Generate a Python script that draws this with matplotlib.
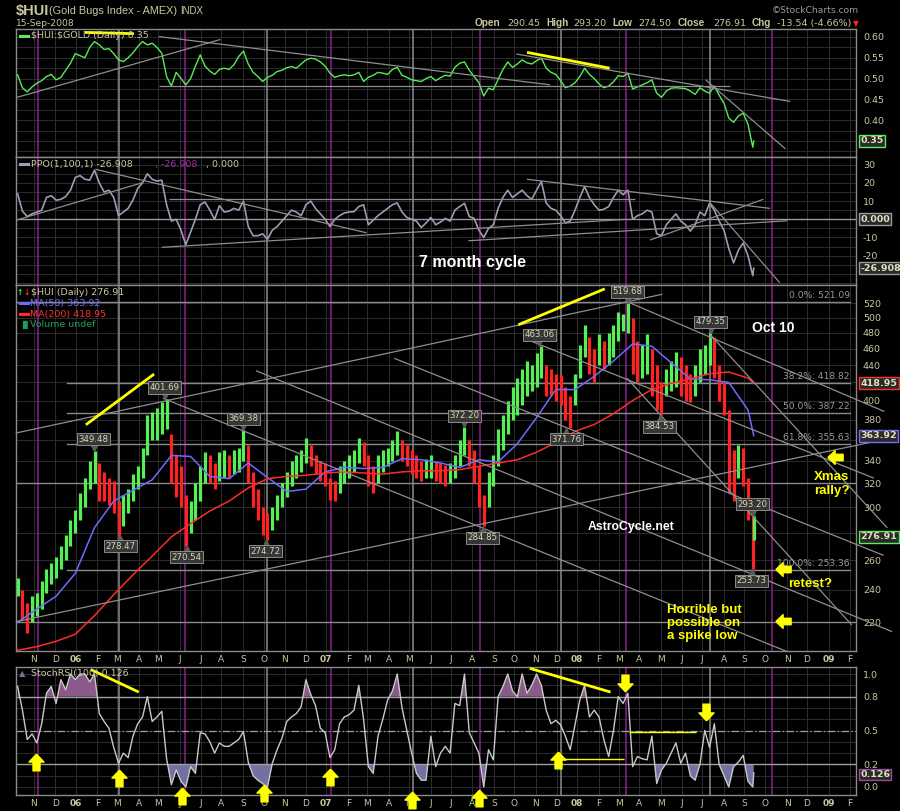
import numpy as np
import pandas as pd
import matplotlib
matplotlib.use("Agg")
import matplotlib.pyplot as plt
from matplotlib.path import Path
from matplotlib.lines import Line2D
from matplotlib.transforms import blended_transform_factory, offset_copy

# ---------------- data ----------------
week_dates = list(pd.date_range("2005-10-07", "2008-09-12", freq="W-FRI").strftime("%Y-%m-%d")) + ["2008-09-15"]

hui_high = [248, 240, 232, 236, 238, 246, 254, 258, 262, 270,
            278, 290, 298, 312, 325, 340, 349.5, 338, 330, 325,
            322, 305, 310, 315, 328, 335, 352, 385, 388, 392,
            398, 401.7, 365, 345, 335, 310, 305, 320, 335, 348,
            345, 338, 348, 350, 345, 350, 352, 369.4, 355, 330,
            315, 300, 295, 300, 310, 320, 330, 340, 345, 350,
            362, 355, 345, 340, 338, 325, 322, 335, 340, 345,
            350, 362, 358, 345, 335, 345, 350, 352, 360, 368,
            360, 355, 350, 345, 340, 342, 345, 340, 338, 336,
            338, 345, 360, 372.2, 360, 350, 335, 310, 330, 345,
            370, 385, 400, 415, 425, 435, 445, 440, 455, 463.1,
            440, 436, 430, 428, 415, 405, 430, 465, 490, 475,
            460, 478, 470, 480, 490, 508, 505, 519.7, 500, 470,
            465, 478, 460, 440, 420, 435, 445, 456, 450, 440,
            430, 440, 460, 465, 479.4, 475, 440, 420, 390, 350,
            355, 352, 325, 300, 293.2]
hui_low = [236, 222, 214, 220, 224, 228, 238, 244, 248, 254,
           260, 270, 280, 290, 300, 315, 320, 305, 305, 302,
           295, 278.5, 285, 295, 305, 315, 325, 345, 360, 360,
           365, 370, 320, 308, 300, 270.5, 280, 290, 305, 320,
           320, 315, 322, 325, 325, 328, 330, 340, 320, 300,
           290, 278, 274.7, 282, 290, 300, 308, 318, 325, 330,
           338, 335, 328, 322, 318, 306, 305, 312, 320, 325,
           330, 338, 335, 318, 312, 320, 330, 335, 340, 345,
           340, 335, 328, 325, 322, 325, 325, 322, 320, 318,
           320, 325, 335, 345, 335, 320, 300, 284.9, 300, 318,
           335, 350, 365, 380, 385, 395, 405, 410, 415, 425,
           405, 406, 400, 395, 380, 371.8, 395, 425, 450, 430,
           420, 440, 435, 440, 450, 470, 482, 480, 430, 420,
           425, 430, 405, 390, 384.5, 405, 410, 415, 405, 400,
           398, 405, 420, 430, 440, 425, 400, 385, 312, 305,
           325, 318, 290, 253.7, 274.5]
ratio = [0.509, 0.478, 0.468, 0.480, 0.489, 0.495, 0.505, 0.510, 0.497, 0.503,
         0.520, 0.537, 0.560, 0.555, 0.550, 0.575, 0.589, 0.581, 0.570, 0.572,
         0.560, 0.545, 0.541, 0.550, 0.562, 0.577, 0.589, 0.581, 0.585, 0.575,
         0.561, 0.505, 0.482, 0.515, 0.500, 0.485, 0.500, 0.530, 0.557, 0.530,
         0.518, 0.510, 0.522, 0.525, 0.522, 0.533, 0.553, 0.566, 0.535, 0.515,
         0.505, 0.493, 0.503, 0.508, 0.517, 0.520, 0.526, 0.529, 0.525, 0.535,
         0.545, 0.549, 0.547, 0.540, 0.530, 0.513, 0.503, 0.507, 0.509, 0.507,
         0.509, 0.515, 0.493, 0.503, 0.508, 0.515, 0.513, 0.510, 0.522, 0.527,
         0.508, 0.503, 0.497, 0.495, 0.493, 0.500, 0.505, 0.495, 0.502, 0.508,
         0.506, 0.527, 0.537, 0.540, 0.520, 0.505, 0.490, 0.458, 0.477, 0.473,
         0.498, 0.522, 0.540, 0.527, 0.535, 0.545, 0.538, 0.535, 0.543, 0.549,
         0.525, 0.515, 0.510, 0.495, 0.478, 0.482, 0.490, 0.505, 0.525, 0.510,
         0.500, 0.487, 0.478, 0.482, 0.492, 0.507, 0.505, 0.513, 0.475, 0.480,
         0.485, 0.490, 0.497, 0.465, 0.455, 0.470, 0.477, 0.478, 0.477, 0.476,
         0.470, 0.462, 0.478, 0.470, 0.465, 0.482, 0.460, 0.441, 0.405, 0.395,
         0.410, 0.417, 0.390, 0.335, 0.350]
ppo = [14, 4.5, 1.5, 3, 4, 5, 12, 13, 10.5, 11,
       12.5, 16, 23, 24, 22, 21.5, 27, 20, 15, 16,
       12, 2, 4, 6, 10.6, 17, 20, 25, 22, 21,
       21.5, 8, -1, 0, -6, -14, -7, 0, 8, 9.5,
       5, 0, 7.5, 4, 4.5, 6, 5, 10, -4, -9,
       -9, -8, -11, -6, -4, -1, 2, 5, 4, 2,
       8, 10, 6, 3, 0, -4, 0, 2, 3.5, 4,
       4.2, 7, 8, -3, -0.5, 2, 4, 6, 8, 9,
       4, 1, 0, -1, -4.5, -2, 1, -3, -1.5, 0.5,
       -1, 5, 7, 8.8, 1.5, 0.5, -6, -10, -5, -3,
       6, 12, 16, 12, 14, 16, 13, 11, 16, 20.7,
       9, 6, 5, 2, -2, -1, 5, 12, 18, 12,
       8, 5, 5.5, 7, 12, 16, 13.5, 16, 0, 2,
       3, 5, 4, -8, -9, -3, 0, 3, -1, -3,
       -6.5, -3, 4, 2, 8.8, 5, -1, -6, -16, -24,
       -17, -13, -20, -31, -26.908]
stoch = [0.89, 0.68, 0.42, 0.47, 0.39, 0.56, 0.83, 0.89, 0.74, 0.95,
         0.86, 1.0, 0.95, 1.0, 1.0, 0.93, 1.0, 0.65, 0.58, 0.52,
         0.35, 0.21, 0.30, 0.26, 0.45, 0.56, 0.62, 0.80, 0.58, 0.62,
         0.67, 0.25, 0.02, 0.15, 0.05, 0.0, 0.18, 0.12, 0.48, 0.47,
         0.40, 0.30, 0.39, 0.36, 0.36, 0.39, 0.42, 0.49, 0.22, 0.10,
         0.06, 0.03, 0.0, 0.21, 0.33, 0.43, 0.58, 0.62, 0.65, 0.71,
         0.95, 0.82, 0.72, 0.52, 0.48, 0.26, 0.33, 0.56, 0.62, 0.64,
         0.68, 0.90, 0.60, 0.18, 0.12, 0.45, 0.60, 0.77, 0.85, 1.0,
         0.70, 0.50, 0.30, 0.12, 0.06, 0.06, 0.45, 0.18, 0.30, 0.36,
         0.30, 0.74, 0.72, 1.0, 0.48, 0.39, 0.30, 0.0, 0.33, 0.24,
         0.80, 0.89, 1.0, 0.85, 0.80, 1.0, 0.83, 0.90, 1.0, 0.90,
         0.68, 0.56, 0.59, 0.55, 0.45, 0.33, 0.55, 0.77, 0.90, 0.62,
         0.68, 0.62, 0.42, 0.27, 0.50, 0.80, 0.74, 0.83, 0.18, 0.27,
         0.25, 0.24, 0.45, 0.03, 0.15, 0.21, 0.30, 0.39, 0.21, 0.30,
         0.10, 0.06, 0.20, 0.50, 0.35, 0.56, 0.20, 0.10, 0.0, 0.18,
         0.22, 0.28, 0.05, 0.0, 0.126]

ma_dates = list(pd.date_range("2005-10-07", "2008-09-05", freq="28D").strftime("%Y-%m-%d")) + ["2008-09-15"]
ma50 = [220, 228, 236, 251, 284, 305, 314, 323, 345, 344,
        326, 324, 338, 325, 313, 315, 330, 334, 333, 334,
        342, 341, 338, 334, 341, 339, 356, 382, 412, 412,
        427, 445, 466, 463, 443, 424, 423, 420, 390, 363.92]
ma200 = [204, 206, 209, 213, 224, 237, 250, 263, 277, 287,
         297, 305, 316, 324, 326, 327, 329, 330, 329, 328,
         330, 331, 331, 332, 335, 338, 341, 348, 357, 368,
         375, 386, 400, 412, 419, 424, 430, 432, 425, 418.95]

pivot_dates = ["2006-01-26", "2006-03-07", "2006-05-10", "2006-06-12", "2006-09-01",
               "2006-10-04", "2007-07-20", "2007-08-16", "2007-11-07", "2007-12-17",
               "2008-03-14", "2008-04-30", "2008-07-14", "2008-09-12", "2008-09-11"]
pivot_values = [349.48, 278.47, 401.69, 270.54, 369.38, 274.72, 372.20, 284.85,
                463.06, 371.76, 519.68, 384.53, 479.35, 293.20, 253.73]
pivot_is_high = [1, 0, 1, 0, 1, 0, 1, 0, 1, 0, 1, 0, 1, 1, 0]

cycle_purple = ["2005-11-07", "2006-06-08", "2007-01-08", "2007-08-13", "2008-03-12", "2008-10-10"]
cycle_gray = ["2006-03-06", "2006-10-06", "2007-05-07", "2007-12-07", "2008-07-11"]

ratio_lines = [("2005-10-05", 0.454, "2006-07-29", 0.594),
               ("2006-05-02", 0.601, "2007-11-22", 0.485),
               ("2006-05-02", 0.483, "2008-08-09", 0.483),
               ("2007-10-04", 0.559, "2008-11-06", 0.445),
               ("2008-07-05", 0.497, "2008-10-30", 0.331)]
ratio_yellow = [("2007-10-19", 0.563, "2008-02-17", 0.525),
                ("2006-01-13", 0.611, "2006-03-27", 0.608)]
ppo_lines = [("2005-10-06", -0.4, "2006-04-08", 20.3),
             ("2006-01-30", 27.5, "2007-02-28", -7.4),
             ("2006-05-17", 11.0, "2008-03-25", 11.0),
             ("2006-05-05", -15.4, "2008-03-13", 0.0),
             ("2007-07-26", -11.8, "2008-11-01", -0.8),
             ("2007-10-19", 22.0, "2008-10-08", 6.0),
             ("2008-04-16", -11.4, "2008-09-28", 11.0),
             ("2008-07-12", 8.8, "2008-10-22", -34.8)]
main_lines = [("2005-10-05", 366.4, "2008-05-03", 532.8),
              ("2005-10-05", 220.3, "2009-03-07", 358.0),
              ("2007-04-10", 448.2, "2009-03-22", 263.5),
              ("2006-09-20", 433.5, "2009-04-03", 214.5),
              ("2006-05-08", 402.6, "2008-11-01", 203.2),
              ("2007-10-16", 473.1, "2009-03-07", 324.5),
              ("2008-03-13", 522.3, "2009-03-24", 388.3),
              ("2008-03-13", 424.9, "2009-02-04", 218.4),
              ("2008-07-12", 477.4, "2009-03-27", 283.7)]
main_yellow = [("2006-01-14", 374.7, "2006-04-25", 429.6),
               ("2007-10-07", 490.7, "2008-02-09", 540.6)]
fib_levels = [521.09, 418.82, 387.22, 355.63, 253.36]
fib_names = ["0.0%", "38.2%", "50.0%", "61.8%", "100.0%"]
extra_levels = [320, 220]
main_arrows = [("2009-01-11", 343.8), ("2008-10-27", 254.1), ("2008-10-27", 220.7)]
stoch_up = [("2005-11-03", 0.224), ("2006-03-03", 0.077), ("2006-06-05", -0.08),
            ("2006-10-02", -0.056), ("2007-01-05", 0.091), ("2007-05-04", -0.115),
            ("2007-08-10", -0.10), ("2007-12-04", 0.239)]
stoch_down = [("2008-03-11", 0.918), ("2008-07-07", 0.666)]
stoch_yellow = [("2006-01-23", 1.04, "2006-04-03", 0.84),
                ("2007-10-24", 1.05, "2008-02-19", 0.84)]
stoch_yellow_thin = [("2008-03-17", 0.484, "2008-06-23", 0.484),
                     ("2007-12-11", 0.245, "2008-03-10", 0.245)]

# ---------------- helpers ----------------
BASE = np.datetime64("2005-11-01")


def X(d):
    return np.busday_count(BASE, np.array(d, dtype="datetime64[D]")).astype(float)


TXT = "#c8c8a0"
GRID = "#2c2c2c"
FRAME = "#8a8a8a"
TREND = "#8e8e8e"
PURPLE = "#8c1f8c"
ANN = "Liberation Sans"

fig = plt.figure(figsize=(9, 8.11), dpi=100, facecolor="black")


def rect(top, bottom):
    return [16 / 900, 1 - bottom / 811, 840 / 900, (bottom - top) / 811]


ax1 = fig.add_axes(rect(29, 157))
ax2 = fig.add_axes(rect(157, 285))
ax3 = fig.add_axes(rect(285, 651))
ax4 = fig.add_axes(rect(667, 795))
axes = [ax1, ax2, ax3, ax4]

xw = X(week_dates)
xm = X(ma_dates)
months = pd.date_range("2005-11-01", "2009-02-01", freq="MS")
mx = X(months.strftime("%Y-%m-%d"))
mlabels = [m.strftime("%y") if m.month == 1 else "JFMAMJJASOND"[m.month - 1] for m in months]

for ax in axes:
    ax.set_facecolor("black")
    ax.set_xlim(-18.7, 855.4)
    for s in ax.spines.values():
        s.set_color(FRAME)
        s.set_linewidth(1.0)
    ax.yaxis.tick_right()
    ax.tick_params(axis="y", length=0, pad=5, labelsize=6.8, labelcolor=TXT)
    ax.set_xticks(mx)
    ax.set_xticklabels(mlabels)
    ax.tick_params(axis="x", length=0, pad=3, labelsize=6.5, labelcolor=TXT)
    for lab in ax.get_xticklabels():
        if lab.get_text().isdigit():
            lab.set_fontweight("bold")
    ax.grid(True, axis="x", color=GRID, lw=0.7)
    ax.set_axisbelow(True)
    for d in cycle_purple:
        ax.axvline(X(d), color=PURPLE, lw=1.1, zorder=1.5)
    for d in cycle_gray:
        ax.axvline(X(d), color="#8c8c8c", lw=1.1, zorder=1.5)
ax1.tick_params(axis="x", labelbottom=False)
ax2.tick_params(axis="x", labelbottom=False)


def seg(ax, lines, color, lw, clip=True, z=4):
    for d0, v0, d1, v1 in lines:
        ax.plot([X(d0), X(d1)], [v0, v1], color=color, lw=lw, zorder=z,
                solid_capstyle="butt", clip_on=clip)


def tag(ax, y, s, ec):
    ax.text(1.005, y, s, transform=blended_transform_factory(ax.transAxes, ax.transData),
            ha="left", va="center", fontsize=6.8, fontweight="bold", color="#e0e0c0",
            bbox=dict(boxstyle="square,pad=0.16", fc="#2a2a2a", ec=ec, lw=1.0),
            clip_on=False, zorder=10)


# ---------------- panel 1: ratio ----------------
ax1.set_ylim(0.3115, 0.6192)
ax1.set_yticks([0.40, 0.45, 0.50, 0.55, 0.60])
ax1.set_yticklabels(["0.40", "0.45", "0.50", "0.55", "0.60"])
for v in np.arange(0.325, 0.62, 0.025):
    ax1.axhline(v, color=GRID, lw=0.7, zorder=0.5)
ax1.plot(xw, ratio, color="#55ee55", lw=1.0, zorder=3)
seg(ax1, ratio_lines, TREND, 0.9)
seg(ax1, ratio_yellow, "#ffff00", 2.0)
tag(ax1, ratio[-1], "0.35", "#55ee55")

# ---------------- panel 2: PPO ----------------
ax2.set_ylim(-36.1, 34.23)
ax2.set_yticks([-20, -10, 10, 20, 30])
ax2.set_yticklabels(["-20", "-10", "10", "20", "30"])
for v in range(-35, 35, 5):
    ax2.axhline(v, color=GRID, lw=0.7, zorder=0.5)
ax2.axhline(0, color="#9a9a9a", lw=1.0, zorder=2)
ax2.plot(xw, ppo, color="#9c9cb4", lw=1.2, zorder=3)
seg(ax2, ppo_lines, TREND, 0.9)
tag(ax2, 0.0, "0.000", "#9a9a9a")
tag(ax2, ppo[-1], "-26.908", "#9a9a9a")
ax2.text(X("2007-08-01"), -24, "7 month cycle", color="white", fontsize=11.5,
         fontweight="bold", family=ANN, ha="center", va="center", zorder=8)

# ---------------- panel 3: price ----------------
ax3.set_yscale("log")
ax3.set_ylim(203.6, 546.2)
ticks = list(range(220, 521, 20))
shown = [t for t in ticks if t not in (280, 360, 420)]
ax3.set_yticks(shown)
ax3.set_yticklabels([str(t) for t in shown])
ax3.yaxis.set_minor_locator(matplotlib.ticker.NullLocator())
for t in ticks:
    ax3.axhline(t, color=GRID, lw=0.7, zorder=0.5)

hi = np.array(hui_high)
lo = np.array(hui_low)
mid = (hi + lo) / 2
up = np.concatenate([[True], mid[1:] >= mid[:-1]])
cols = np.where(up, "#55f055", "#ff2222")
ax3.vlines(xw, lo, hi, colors=cols, lw=2.3, zorder=3)
ax3.plot(xm, ma50, color="#6c6cff", lw=1.1, zorder=4)
ax3.plot(xm, ma200, color="#ff2a2a", lw=1.1, zorder=4)

for lvl, nm in zip(fib_levels, fib_names):
    start = "2005-10-05" if nm == "0.0%" else "2005-12-18"
    ax3.plot([X(start), X("2009-02-02")], [lvl, lvl], color="#8a8a8a", lw=1.0, zorder=2)
    ax3.annotate(f"{nm}: {lvl:.2f}", (X("2009-02-02"), lvl), xytext=(0, 2),
                 textcoords="offset pixels", ha="right", va="bottom",
                 fontsize=6.6, color="#9a9a9a", zorder=6)
for lvl in extra_levels:
    ax3.axhline(lvl, color="#8a8a8a", lw=1.0, zorder=2)

seg(ax3, main_lines, TREND, 0.9, clip=False)
seg(ax3, main_yellow, "#ffff00", 2.0)

for d, v, h in zip(pivot_dates, pivot_values, pivot_is_high):
    xx = X(d)
    off = 4 if h else -4
    tr = offset_copy(ax3.transData, fig=fig, x=0, y=off, units="dots")
    ax3.plot([xx], [v], marker="v" if h else "^", ms=5.5, color="#5a5a5a",
             transform=tr, zorder=7, clip_on=False)
    ax3.annotate(f"{v:.2f}", (xx, v), xytext=(0, 7 if h else -7),
                 textcoords="offset pixels", ha="center", va="bottom" if h else "top",
                 fontsize=6.2, color="#d8d8b8", zorder=8,
                 bbox=dict(boxstyle="square,pad=0.18", fc="#363636", ec="#8a8a8a", lw=0.7))

tag(ax3, ma200[-1], "418.95", "#ff3030")
tag(ax3, ma50[-1], "363.92", "#7070ff")
tag(ax3, 276.91, "276.91", "#55ee55")

ax3.text(X("2008-10-11"), 486.5, "Oct 10", color="white", fontsize=10, fontweight="bold",
         family=ANN, ha="center", va="center", zorder=8)
ax3.text(X("2009-01-06"), 319.5, "Xmas\nrally?", color="#ffff00", fontsize=9.5,
         fontweight="bold", family=ANN, ha="center", va="center", linespacing=1.15, zorder=8)
ax3.text(X("2008-12-05"), 244.0, "retest?", color="#ffff00", fontsize=9.5, fontweight="bold",
         family=ANN, ha="center", va="center", zorder=8)
ax3.text(X("2008-05-11"), 219.5, "Horrible but\npossible on\na spike low", color="#ffff00",
         fontsize=9.5, fontweight="bold", family=ANN, ha="left", va="center",
         linespacing=1.12, zorder=8)
ax3.text(X("2008-03-19"), 284.7, "AstroCycle.net", color="white", fontsize=8.8,
         fontweight="bold", family=ANN, ha="center", va="center", zorder=8)

LEFT = [(-1, 0), (-0.05, 0.9), (-0.05, 0.42), (1, 0.42), (1, -0.42), (-0.05, -0.42),
        (-0.05, -0.9), (-1, 0)]
UPV = [(y, -x) for x, y in LEFT]
DOWNV = [(x, -y) for x, y in UPV]
for d, v in main_arrows:
    ax3.plot([X(d)], [v], marker=Path(LEFT), ms=11, color="#ffff00", mec="#ffff00",
             zorder=9, clip_on=False)

# ---------------- panel 4: StochRSI ----------------
ax4.set_ylim(-0.0708, 1.062)
ax4.set_yticks([0.0, 0.2, 0.5, 0.8, 1.0])
ax4.set_yticklabels(["0.0", "0.2", "0.5", "0.8", "1.0"])
for v in np.arange(0.0, 1.01, 0.1):
    ax4.axhline(v, color=GRID, lw=0.7, zorder=0.5)
st = np.array(stoch)
ax4.fill_between(xw, 0.8, st, where=st > 0.8, interpolate=True, color="#8a5a8a", lw=0, zorder=2)
ax4.fill_between(xw, st, 0.2, where=st < 0.2, interpolate=True, color="#7272a2", lw=0, zorder=2)
ax4.axhline(0.8, color="#a0a0a0", lw=1.0, zorder=2.5)
ax4.axhline(0.2, color="#a0a0a0", lw=1.0, zorder=2.5)
ax4.axhline(0.5, color="#a0a0a0", lw=0.9, ls=(0, (6, 2, 1, 2)), zorder=2.5)
ax4.plot(xw, st, color="#c8c8c8", lw=1.0, zorder=3)
seg(ax4, stoch_yellow, "#ffff00", 2.0)
seg(ax4, stoch_yellow_thin, "#ffff00", 1.0)
for d, v in stoch_up:
    ax4.plot([X(d)], [v], marker=Path(UPV), ms=12, color="#ffff00", mec="#ffff00",
             zorder=9, clip_on=False)
for d, v in stoch_down:
    ax4.plot([X(d)], [v], marker=Path(DOWNV), ms=12, color="#ffff00", mec="#ffff00",
             zorder=9, clip_on=False)
ax4.text(1.005, st[-1] - 0.015, "0.126", transform=blended_transform_factory(ax4.transAxes, ax4.transData),
         ha="left", va="center", fontsize=6.8, fontweight="bold", color="#e0e0c0",
         bbox=dict(boxstyle="square,pad=0.12", fc="#2a2a2a", ec="#9a4a9a", lw=1.0),
         clip_on=False, zorder=10)


# ---------------- header and legends ----------------
def ft(x, y, s, **kw):
    kw.setdefault("va", "center")
    kw.setdefault("color", TXT)
    fig.text(x / 900, 1 - y / 811, s, **kw)


def dash(x0, x1, y, color, lw=2.2):
    fig.add_artist(Line2D([x0 / 900, x1 / 900], [1 - y / 811, 1 - y / 811], color=color, lw=lw))


ft(16, 11, r"\$HUI", fontsize=10.5, fontweight="bold", family=ANN)
ft(49, 11, "(Gold Bugs Index - AMEX)", fontsize=7.8, family=ANN)
ft(180, 11, "INDX", fontsize=7, family=ANN)
ft(16, 23.5, "15-Sep-2008", fontsize=6.6)
ft(859, 10.5, "\u00a9StockCharts.com", fontsize=6.6, ha="right", color="#9a9a9a")
for xx, s, b in [(475, "Open", True), (507, "290.45", False), (546, "High", True),
                 (573, "293.20", False), (612, "Low", True), (638, "274.50", False),
                 (678, "Close", True), (713, "276.91", False), (752, "Chg", True),
                 (777, "-13.54 (-4.66%)", False)]:
    ft(xx, 23.5, s, fontsize=7.2 if b else 6.8, fontweight="bold" if b else "normal",
       family=ANN if b else "DejaVu Sans")
ft(856, 23.5, "\u25bc", fontsize=5.5, color="#ff2020", ha="center")

dash(19.5, 28, 35.7, "#55ee55")
ft(31, 35.7, r"\$HUI:\$GOLD (Daily) 0.35", fontsize=6.8)

dash(19.5, 28, 164.3, "#9c9cb4")
ft(31, 164.3, "PPO(1,100,1) -26.908", fontsize=6.8)
ft(155, 164.3, ", -26.908", fontsize=6.8, color="#a030a0")
ft(206.5, 164.3, ", 0.000", fontsize=6.8)

ft(17, 292.3, "\u2191", fontsize=5.5, color="#55ee55", fontweight="bold")
ft(23.5, 292.3, "\u2193", fontsize=5.5, color="#ff3030", fontweight="bold")
ft(31, 292.3, r"\$HUI (Daily) 276.91", fontsize=6.8)
dash(19.5, 28, 303.3, "#6c6cff")
ft(29.5, 303.3, "MA(50) 363.92", fontsize=6.8, color="#7070ff")
dash(19.5, 28, 314.3, "#ff2a2a")
ft(29.5, 314.3, "MA(200) 418.95", fontsize=6.8, color="#ff3030")
ft(19, 324.3, "\u2590\u258c", fontsize=5.5, color="#1e9e5e")
ft(29.5, 324.3, "Volume undef", fontsize=6.8, color="#1e9e5e")

ft(19, 673.3, "\u25b2", fontsize=6, color="#8a6a9a")
ft(31, 673.3, "StochRSI(100) 0.126", fontsize=6.8)

fig.savefig("out.png", dpi=100, facecolor="black")
